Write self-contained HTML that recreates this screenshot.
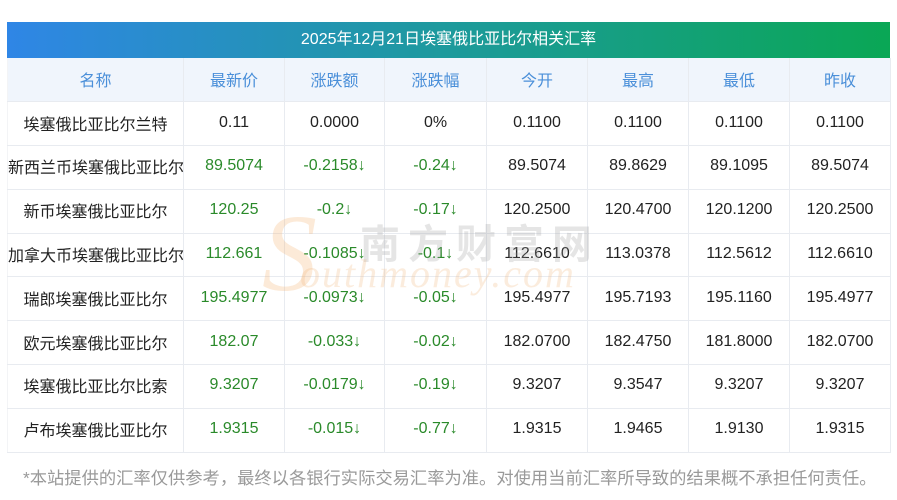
<!DOCTYPE html>
<html><head><meta charset="utf-8"><style>
*{margin:0;padding:0;box-sizing:border-box}
body{width:897px;height:500px;background:#fff;position:relative;overflow:hidden;font-family:"Liberation Sans","Noto Sans CJK SC",sans-serif}
.title{position:absolute;left:7px;top:22px;width:883px;height:36px;background:linear-gradient(90deg,#2f86e6 0%,#1d9a9c 50%,#0aa755 100%);color:#fff;font-size:16px;text-align:center;line-height:36px}
table{position:absolute;left:7px;top:58px;width:883px;border-collapse:collapse;table-layout:fixed}
td{border:1px solid #e8ebf0;text-align:center;font-size:16px;height:43.8px;color:#222;white-space:nowrap;overflow:visible;padding-bottom:2px}
tr:first-child td{background:#f0f5fc;color:#4a8fd9;font-size:16px;border-top:none}
td:first-child{border-left:1px solid #f3f4f6}
.g{color:#2a8a2a}
.wm1{position:absolute;left:360px;top:212px;font-size:40px;color:rgba(160,160,160,0.28);letter-spacing:8px;font-weight:bold}
.wm2{position:absolute;left:300px;top:250px;font-size:40px;font-style:italic;font-family:"Liberation Serif",serif;color:rgba(240,180,120,0.25);letter-spacing:2px}
.wm3{position:absolute;left:262px;top:190px;font-size:110px;font-style:italic;font-family:"Liberation Serif",serif;color:rgba(245,170,100,0.25)}
.foot{position:absolute;left:23px;top:464px;font-size:17.3px;color:#9a9a9a;white-space:nowrap}
</style></head><body>
<div class="title">2025年12月21日埃塞俄比亚比尔相关汇率</div>
<table>
<colgroup><col style="width:176px"><col style="width:101px"><col style="width:100px"><col style="width:102px"><col style="width:101px"><col style="width:101px"><col style="width:101px"><col style="width:101px"></colgroup>
<tr><td>名称</td><td>最新价</td><td>涨跌额</td><td>涨跌幅</td><td>今开</td><td>最高</td><td>最低</td><td>昨收</td></tr>
<tr><td>埃塞俄比亚比尔兰特</td><td>0.11</td><td>0.0000</td><td>0%</td><td>0.1100</td><td>0.1100</td><td>0.1100</td><td>0.1100</td></tr>
<tr><td>新西兰币埃塞俄比亚比尔</td><td class="g">89.5074</td><td class="g">-0.2158↓</td><td class="g">-0.24↓</td><td>89.5074</td><td>89.8629</td><td>89.1095</td><td>89.5074</td></tr>
<tr><td>新币埃塞俄比亚比尔</td><td class="g">120.25</td><td class="g">-0.2↓</td><td class="g">-0.17↓</td><td>120.2500</td><td>120.4700</td><td>120.1200</td><td>120.2500</td></tr>
<tr><td>加拿大币埃塞俄比亚比尔</td><td class="g">112.661</td><td class="g">-0.1085↓</td><td class="g">-0.1↓</td><td>112.6610</td><td>113.0378</td><td>112.5612</td><td>112.6610</td></tr>
<tr><td>瑞郎埃塞俄比亚比尔</td><td class="g">195.4977</td><td class="g">-0.0973↓</td><td class="g">-0.05↓</td><td>195.4977</td><td>195.7193</td><td>195.1160</td><td>195.4977</td></tr>
<tr><td>欧元埃塞俄比亚比尔</td><td class="g">182.07</td><td class="g">-0.033↓</td><td class="g">-0.02↓</td><td>182.0700</td><td>182.4750</td><td>181.8000</td><td>182.0700</td></tr>
<tr><td>埃塞俄比亚比尔比索</td><td class="g">9.3207</td><td class="g">-0.0179↓</td><td class="g">-0.19↓</td><td>9.3207</td><td>9.3547</td><td>9.3207</td><td>9.3207</td></tr>
<tr><td>卢布埃塞俄比亚比尔</td><td class="g">1.9315</td><td class="g">-0.015↓</td><td class="g">-0.77↓</td><td>1.9315</td><td>1.9465</td><td>1.9130</td><td>1.9315</td></tr>
</table>
<div class="wm3">S</div>
<div class="wm1">南方财富网</div>
<div class="wm2">outhmoney.com</div>
<div class="foot">*本站提供的汇率仅供参考，最终以各银行实际交易汇率为准。对使用当前汇率所导致的结果概不承担任何责任。</div>
</body></html>
